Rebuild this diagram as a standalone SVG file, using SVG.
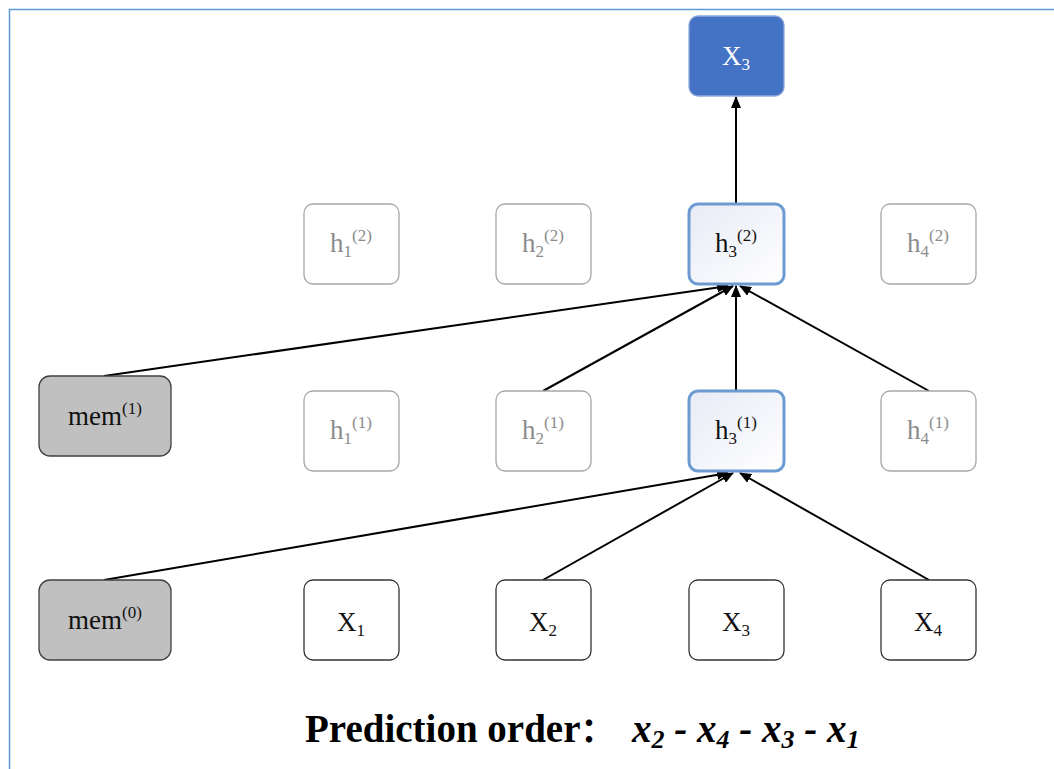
<svg xmlns="http://www.w3.org/2000/svg" width="1054" height="769" viewBox="0 0 1054 769" font-family="'Liberation Serif', 'Times New Roman', serif">
<style>
.n rect{stroke-width:1.3}
.black rect{fill:#fff;stroke:#333}
.grey rect{fill:#fff;stroke:#a6a6a6}
.mem rect{fill:#c0c0c0;stroke:#404040}
.hl rect{fill:url(#g);stroke:#6c9bd2;stroke-width:3}
.top rect{fill:#4472c4;stroke:#8faadc}
text{font-family:'Liberation Serif','Times New Roman',serif;font-size:27px;text-anchor:middle}
.grey text{fill:#8c8c8c}
.black text,.mem text,.hl text{fill:#111}
.top text{fill:#fff}
.s{font-size:17px}
.conn line{stroke:#000;stroke-width:2;marker-end:url(#a)}
.cap{text-anchor:start;font-size:39px;font-weight:bold;fill:#000}
.sub{font-size:26px}
</style>
<defs>
<linearGradient id="g" x1="0" y1="0" x2="1" y2="1"><stop offset="0" stop-color="#e8ebf6"/><stop offset="1" stop-color="#ffffff"/></linearGradient>
<marker id="a" viewBox="0 0 12 10" refX="11" refY="5" markerWidth="12" markerHeight="10" orient="auto" markerUnits="userSpaceOnUse"><path d="M0,0 L12,5 L0,10 z" fill="#000"/></marker>
</defs>
<rect width="1054" height="769" fill="#fff"/>
<path d="M9.5,769 V9.5 H1054" fill="none" stroke="#5b9bd5" stroke-width="1.5"/>
<g class="conn">
<line x1="736" y1="204" x2="736" y2="97"/>
<line x1="104" y1="376" x2="728" y2="286"/>
<line x1="543" y1="391" x2="733" y2="286"/>
<line x1="736" y1="391" x2="736" y2="286"/>
<line x1="929" y1="391" x2="740" y2="286"/>
<line x1="104" y1="580" x2="728" y2="473"/>
<line x1="543" y1="580" x2="733" y2="473"/>
<line x1="929" y1="580" x2="740" y2="473"/>
</g>
<g id="x3top" class="n top"><rect x="689" y="16" width="95" height="80" rx="9"/><text x="736" y="65">X<tspan class="s" dy="5">3</tspan></text></g>
<g id="h1_2" class="n grey"><rect x="304" y="204" width="95" height="80" rx="9"/><text x="351" y="252">h<tspan class="s" dy="5">1</tspan><tspan class="s" dy="-16">(2)</tspan></text></g>
<g id="h2_2" class="n grey"><rect x="496" y="204" width="95" height="80" rx="9"/><text x="543" y="252">h<tspan class="s" dy="5">2</tspan><tspan class="s" dy="-16">(2)</tspan></text></g>
<g id="h3_2" class="n hl"><rect x="689" y="204" width="95" height="80" rx="9"/><text x="736" y="252">h<tspan class="s" dy="5">3</tspan><tspan class="s" dy="-16">(2)</tspan></text></g>
<g id="h4_2" class="n grey"><rect x="881" y="204" width="95" height="80" rx="9"/><text x="928" y="252">h<tspan class="s" dy="5">4</tspan><tspan class="s" dy="-16">(2)</tspan></text></g>
<g id="mem1" class="n mem"><rect x="39" y="376" width="132" height="80" rx="11"/><text x="105" y="425">mem<tspan class="s" dy="-11">(1)</tspan></text></g>
<g id="h1_1" class="n grey"><rect x="304" y="391" width="95" height="80" rx="9"/><text x="351" y="439">h<tspan class="s" dy="5">1</tspan><tspan class="s" dy="-16">(1)</tspan></text></g>
<g id="h2_1" class="n grey"><rect x="496" y="391" width="95" height="80" rx="9"/><text x="543" y="439">h<tspan class="s" dy="5">2</tspan><tspan class="s" dy="-16">(1)</tspan></text></g>
<g id="h3_1" class="n hl"><rect x="689" y="391" width="95" height="80" rx="9"/><text x="736" y="439">h<tspan class="s" dy="5">3</tspan><tspan class="s" dy="-16">(1)</tspan></text></g>
<g id="h4_1" class="n grey"><rect x="881" y="391" width="95" height="80" rx="9"/><text x="928" y="439">h<tspan class="s" dy="5">4</tspan><tspan class="s" dy="-16">(1)</tspan></text></g>
<g id="mem0" class="n mem"><rect x="39" y="580" width="132" height="80" rx="11"/><text x="105" y="629">mem<tspan class="s" dy="-11">(0)</tspan></text></g>
<g id="x1" class="n black"><rect x="304" y="580" width="95" height="80" rx="9"/><text x="351" y="631">X<tspan class="s" dy="5">1</tspan></text></g>
<g id="x2" class="n black"><rect x="496" y="580" width="95" height="80" rx="9"/><text x="543" y="631">X<tspan class="s" dy="5">2</tspan></text></g>
<g id="x3" class="n black"><rect x="689" y="580" width="95" height="80" rx="9"/><text x="736" y="631">X<tspan class="s" dy="5">3</tspan></text></g>
<g id="x4" class="n black"><rect x="881" y="580" width="95" height="80" rx="9"/><text x="928" y="631">X<tspan class="s" dy="5">4</tspan></text></g>
<g id="caption">
<text class="cap" x="305" y="742">Prediction order<tspan style="font-family:'Noto Sans CJK SC',sans-serif;font-size:34px">：</tspan></text>
<text class="cap" x="632" y="742" style="font-style:italic">x<tspan class="sub" dy="6">2</tspan><tspan dy="-6"> - x</tspan><tspan class="sub" dy="6">4</tspan><tspan dy="-6"> - x</tspan><tspan class="sub" dy="6">3</tspan><tspan dy="-6"> - x</tspan><tspan class="sub" dy="6">1</tspan></text>
</g>
</svg>
